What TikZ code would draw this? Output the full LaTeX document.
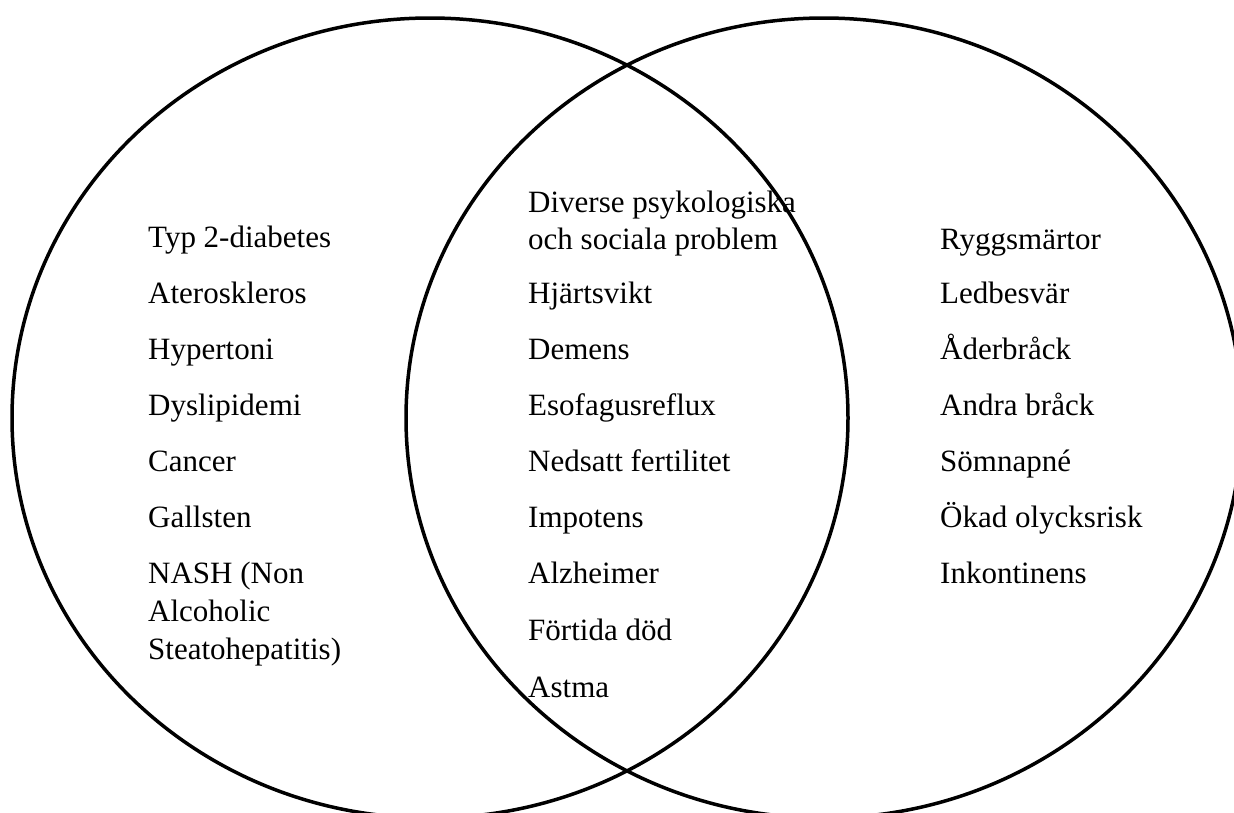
\documentclass[tikz,border=0pt]{standalone}
\usepackage{fontspec}
\setmainfont{Liberation Serif}
\begin{document}
\begin{tikzpicture}[x=1pt,y=-1pt,
  lbl/.style={anchor=base west, inner sep=0pt, font=\fontsize{31}{37}\selectfont},
  ring/.style={draw=black, line width=3.5pt}]
\useasboundingbox (0,0) rectangle (1234,812);
% left column
\node[lbl] (l1) at (148,247) {Typ 2-diabetes};
\node[lbl] (l2) at (148,303) {Ateroskleros};
\node[lbl] (l3) at (148,359) {Hypertoni};
\node[lbl] (l4) at (148,415) {Dyslipidemi};
\node[lbl] (l5) at (148,471) {Cancer};
\node[lbl] (l6) at (148,527) {Gallsten};
\node[lbl] (l7a) at (148,583) {NASH (Non};
\node[lbl] (l7b) at (148,621) {Alcoholic};
\node[lbl] (l7c) at (148,659) {Steatohepatitis)};
% middle column
\node[lbl] (m1a) at (528,212) {Diverse psykologiska};
\node[lbl] (m1b) at (528,249) {och sociala problem};
\node[lbl] (m2) at (528,303) {Hjärtsvikt};
\node[lbl] (m3) at (528,359) {Demens};
\node[lbl] (m4) at (528,415) {Esofagusreflux};
\node[lbl] (m5) at (528,471) {Nedsatt fertilitet};
\node[lbl] (m6) at (528,527) {Impotens};
\node[lbl] (m7) at (528,583) {Alzheimer};
\node[lbl] (m8) at (528,640) {Förtida död};
\node[lbl] (m9) at (528,697) {Astma};
% right column
\node[lbl] (r1) at (940,249) {Ryggsmärtor};
\node[lbl] (r2) at (940,303) {Ledbesvär};
\node[lbl] (r3) at (940,359) {Åderbråck};
\node[lbl] (r4) at (940,415) {Andra bråck};
\node[lbl] (r5) at (940,471) {Sömnapné};
\node[lbl] (r6) at (940,527) {Ökad olycksrisk};
\node[lbl] (r7) at (940,583) {Inkontinens};
% circles
\begin{scope}
\clip (0,0) rectangle (1234,812);
\draw[ring] (430,418) ellipse [x radius=418, y radius=400];
\draw[ring] (824,418) ellipse [x radius=418, y radius=400];
\end{scope}
\end{tikzpicture}
\end{document}
